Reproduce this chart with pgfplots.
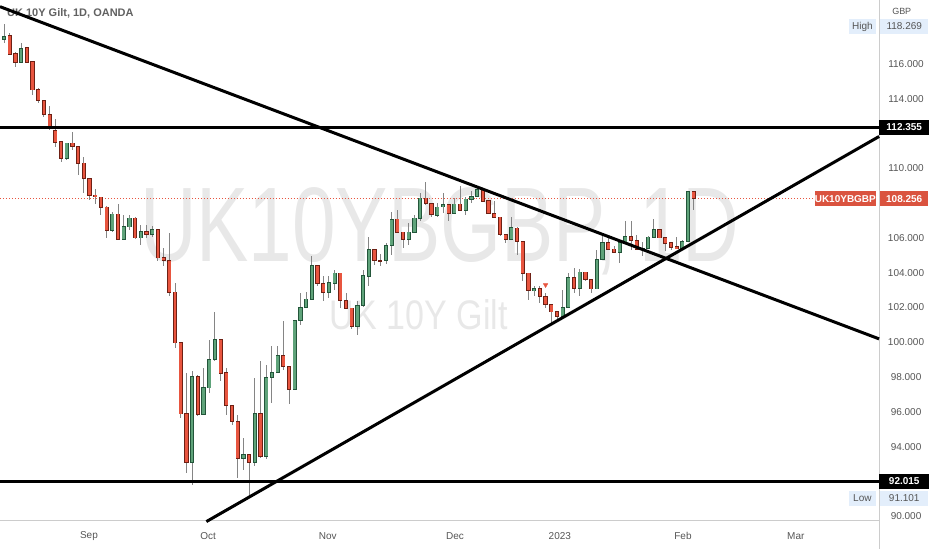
\documentclass[border=0pt]{standalone}
\usepackage{graphicx}
\usepackage{pgfplots}
\pgfplotsset{compat=1.18}
\usepackage{pgfplotstable}
\usepackage{fontspec}
\setmainfont{Liberation Sans}

\definecolor{cred}{HTML}{E8553F}
\definecolor{creddk}{HTML}{6E2014}
\definecolor{cgrn}{HTML}{5FA37A}
\definecolor{cgrndk}{HTML}{23553A}
\definecolor{wick}{HTML}{858585}
\definecolor{axtext}{HTML}{555555}
\definecolor{wmark}{HTML}{E8E8E8}
\definecolor{hibox}{HTML}{E3EEFB}
\definecolor{lblred}{HTML}{DA533F}

% daily bars, k = bar index (k=15 is 1 Sep 2022)
\pgfplotstableread{
k o h l c
1 117.61 117.78 116.52 116.57
2 116.61 116.69 115.85 116.10
4 116.94 116.99 116.04 116.10
5 116.13 116.17 114.22 114.51
6 114.51 114.60 113.74 113.89
7 113.89 113.93 112.97 113.11
8 113.11 113.59 112.21 112.27
9 112.17 112.84 111.25 111.48
10 111.52 111.58 110.39 110.55
12 111.45 112.08 111.06 111.25
13 111.25 111.29 109.63 110.30
14 110.30 110.64 108.58 109.40
15 109.40 109.46 108.19 108.44
16 108.46 108.81 107.96 108.36
17 108.35 108.37 107.33 107.77
18 107.77 107.85 106.00 106.43
20 107.37 107.96 105.90 105.94
23 107.14 107.22 105.95 106.00
25 106.37 106.76 106.01 106.22
27 106.47 106.53 104.65 104.85
28 104.85 105.44 104.36 104.69
29 104.71 106.30 102.64 102.89
30 102.89 103.41 99.68 99.97
31 99.97 99.97 95.66 95.89
32 95.89 98.24 92.50 93.11
34 98.05 98.15 95.75 95.85
38 100.16 100.16 97.76 98.24
39 98.24 98.53 95.85 96.37
40 96.37 96.37 95.28 95.47
41 95.47 95.85 92.22 93.31
43 93.56 93.56 91.10 93.08
45 95.91 98.91 93.36 93.46
49 99.24 101.21 98.43 98.62
50 98.62 98.62 96.48 97.32
55 104.40 104.40 103.22 103.37
56 103.37 103.83 102.36 102.89
59 103.98 103.98 101.97 102.41
60 102.41 102.84 101.93 101.97
61 101.97 101.97 100.79 100.92
65 105.32 105.36 104.42 104.71
66 104.71 105.07 104.40 104.69
69 107.08 107.58 106.30 106.34
70 106.34 106.37 105.42 105.94
74 108.29 109.22 107.90 108.00
75 108.00 108.00 107.23 107.33
78 107.90 107.90 106.99 107.39
80 107.95 109.00 107.55 107.58
84 108.77 108.86 108.04 108.09
85 108.13 108.19 107.35 107.39
86 107.39 108.15 107.15 107.20
87 107.20 107.23 106.13 106.18
88 106.18 106.18 105.72 105.94
90 106.57 106.60 105.04 105.80
91 105.80 105.80 103.54 103.98
92 103.98 103.98 102.45 102.97
94 103.07 103.26 102.26 102.64
95 102.64 102.84 101.97 102.16
96 102.16 102.16 101.12 101.75
97 101.75 101.76 101.19 101.49
100 103.70 104.27 102.84 103.12
102 104.04 104.04 103.55 103.60
103 103.60 103.60 102.84 103.07
106 105.74 106.01 105.33 105.36
107 105.36 105.55 105.12 105.16
110 106.09 106.95 105.32 105.86
111 105.86 106.18 105.28 105.36
115 106.47 106.47 105.97 106.00
116 106.00 106.00 105.23 105.71
117 105.71 105.71 105.32 105.48
118 105.48 106.05 105.40 105.42
121 108.67 108.72 107.62 108.256
}\reddata

\pgfplotstableread{
k o h l c
0 117.42 118.27 117.19 117.57
3 116.10 117.22 116.04 116.90
11 110.55 111.47 110.50 111.45
19 106.43 107.50 106.36 107.37
21 105.94 107.33 105.90 106.63
22 106.63 107.33 106.47 107.14
24 106.00 106.76 105.61 106.37
26 106.22 106.66 106.03 106.47
33 93.11 98.34 91.83 98.05
35 95.85 98.53 95.81 97.38
36 97.38 100.16 97.10 99.01
37 99.01 101.72 98.95 100.16
42 93.31 94.52 92.69 93.56
44 93.08 97.96 92.88 95.91
46 93.46 98.72 93.27 97.99
47 97.99 99.77 96.52 98.28
48 98.28 99.77 98.24 99.24
51 97.32 101.30 97.29 101.25
52 101.25 102.84 101.02 102.02
53 102.02 102.87 101.98 102.49
54 102.49 104.99 102.45 104.40
57 102.89 103.79 102.55 103.41
58 103.41 104.13 103.02 103.98
62 100.92 102.35 100.44 102.10
63 102.10 104.17 102.05 103.83
64 103.79 106.05 103.22 105.32
67 104.69 105.72 104.52 105.55
68 105.55 107.52 105.04 107.08
71 105.94 106.86 105.61 106.34
72 106.34 107.33 106.30 107.14
73 107.14 108.58 106.95 108.29
76 107.30 108.00 107.23 107.77
77 107.79 108.58 107.43 107.90
79 107.39 108.29 107.35 107.95
81 107.58 108.35 107.33 108.23
82 108.23 108.67 108.00 108.38
83 108.38 108.96 108.35 108.77
89 105.94 107.20 105.90 106.57
93 102.97 103.26 102.64 103.07
98 101.49 103.03 101.45 102.01
99 102.01 103.98 101.98 103.70
101 103.12 104.21 102.64 104.04
104 103.07 105.32 103.05 104.75
105 104.75 106.13 104.72 105.74
108 105.16 105.90 104.56 105.74
109 105.74 106.95 105.72 106.09
112 105.36 105.74 104.94 105.42
113 105.42 106.09 105.40 106.05
114 106.05 107.08 106.03 106.47
119 105.42 105.90 105.40 105.80
120 105.80 108.70 105.78 108.67
}\grndata

\pgfplotsset{
  wickstyle/.style={draw=none, mark=none, forget plot,
    error bars/.cd, y dir=both, y explicit, error mark=none,
    error bar style={line width=0.9pt, draw=wick}},
  bodystyle/.style 2 args={draw=none, mark=none, forget plot,
    error bars/.cd, y dir=both, y explicit, error mark=none,
    error bar style={line width=#1, draw=#2}},
}

\begin{document}
\begin{tikzpicture}
\begin{axis}[
  width=880pt, height=521pt, scale only axis,
  xmin=-0.702, xmax=153.5, ymin=89.766, ymax=119.674,
  axis x line*=bottom, axis y line*=right,
  axis line style={draw=black!20, line width=0.8pt},
  tick style={draw=none},
  xtick={14.9,35.8,56.8,79.1,97.5,119.1,138.9},
  xticklabels={Sep,Oct,Nov,Dec,2023,Feb,Mar},
  ytick={90,94,96,98,100,102,104,106,110,114,116},
  yticklabels={90.000,94.000,96.000,98.000,100.000,102.000,104.000,106.000,110.000,114.000,116.000},
  ticklabel style={font=\fontsize{10}{12}\selectfont, text=axtext},
  xticklabel style={anchor=center, yshift=-16pt},
  yticklabel style={anchor=center, xshift=27pt},
  clip=false,
]
% watermark and title
\node[anchor=base west, inner sep=0pt, text=wmark, xshift=140pt, yshift=-262pt]
  at (rel axis cs:0,1) {\resizebox{600pt}{74pt}{UK10YBGBP, 1D}};
\node[anchor=base west, inner sep=0pt, text=wmark, xshift=330pt, yshift=-330pt]
  at (rel axis cs:0,1) {\resizebox{178pt}{30pt}{UK 10Y Gilt}};
\node[anchor=west, inner sep=0pt, xshift=7pt, yshift=-13pt, text=black!62,
  font=\bfseries\fontsize{11}{13}\selectfont] at (rel axis cs:0,1) {UK 10Y Gilt, 1D, OANDA};

% last price line
\addplot[cred, line width=0.8pt, dash pattern=on 1pt off 2pt] coordinates {(-0.702,108.256) (142.3,108.256)};

% wicks
\addplot[wickstyle] table[x=k, y expr={(\thisrow{h}+\thisrow{l})/2}, y error expr={(\thisrow{h}-\thisrow{l})/2}] {\reddata};
\addplot[wickstyle] table[x=k, y expr={(\thisrow{h}+\thisrow{l})/2}, y error expr={(\thisrow{h}-\thisrow{l})/2}] {\grndata};
% bodies: dark outline then fill
\addplot[bodystyle={4.2pt}{creddk}] table[x=k, y expr={(\thisrow{o}+\thisrow{c})/2}, y error expr={abs(\thisrow{o}-\thisrow{c})/2+0.03}] {\reddata};
\addplot[bodystyle={2.6pt}{cred}] table[x=k, y expr={(\thisrow{o}+\thisrow{c})/2}, y error expr={max(abs(\thisrow{o}-\thisrow{c})/2-0.02,0)}] {\reddata};
\addplot[bodystyle={4.2pt}{cgrndk}] table[x=k, y expr={(\thisrow{o}+\thisrow{c})/2}, y error expr={abs(\thisrow{o}-\thisrow{c})/2+0.03}] {\grndata};
\addplot[bodystyle={2.6pt}{cgrn}] table[x=k, y expr={(\thisrow{o}+\thisrow{c})/2}, y error expr={max(abs(\thisrow{o}-\thisrow{c})/2-0.02,0)}] {\grndata};

\addplot[only marks, mark=triangle*, mark size=2.6pt, mark options={rotate=180, fill=cred, draw=cred}] coordinates {(95,103.30)};

% drawn trend lines and levels
\addplot[black, line width=3pt] coordinates {(-0.702,119.29) (153.5,100.2)};
\addplot[black, line width=3pt] coordinates {(35.5,89.70) (153.5,111.83)};
\addplot[black, line width=3pt] coordinates {(-0.702,112.355) (153.5,112.355)};
\addplot[black, line width=3pt] coordinates {(-0.702,92.015) (153.5,92.015)};

% right scale labels
\tikzset{lbl/.style={inner sep=0pt, minimum height=15pt, font=\fontsize{10}{12}\selectfont}}
\node[lbl, anchor=west, minimum width=48pt, fill=hibox, text=axtext, xshift=1pt] at (axis cs:153.5,118.15) {118.269};
\node[lbl, anchor=east, minimum width=27pt, fill=hibox, text=axtext, xshift=-3pt] at (axis cs:153.5,118.15) {High};
\node[lbl, anchor=west, minimum width=48pt, fill=hibox, text=axtext, xshift=1pt] at (axis cs:153.5,91.05) {91.101};
\node[lbl, anchor=east, minimum width=27pt, fill=hibox, text=axtext, xshift=-3pt] at (axis cs:153.5,91.05) {Low};
\node[lbl, anchor=west, minimum width=50pt, fill=black, text=white, font=\bfseries\fontsize{10}{12}\selectfont] at (axis cs:153.5,112.355) {112.355};
\node[lbl, anchor=west, minimum width=50pt, fill=black, text=white, font=\bfseries\fontsize{10}{12}\selectfont] at (axis cs:153.5,92.015) {92.015};
\node[lbl, anchor=west, minimum width=48pt, fill=lblred, text=white, xshift=1pt, font=\bfseries\fontsize{10}{12}\selectfont] at (axis cs:153.5,108.256) {108.256};
\node[lbl, anchor=east, minimum width=60pt, fill=lblred, text=white, xshift=-3pt, font=\bfseries\fontsize{10}{12}\selectfont] at (axis cs:153.5,108.256) {UK10YBGBP};
\node[anchor=west, inner sep=0pt, text=axtext, font=\fontsize{9}{11}\selectfont, xshift=13pt, yshift=-11pt] at (rel axis cs:1,1) {GBP};
\end{axis}
\draw[black!20, line width=0.8pt] (current axis.south east) -- ++(0,-29pt);
\pgfresetboundingbox
\path[use as bounding box] ([yshift=-29pt]current axis.south west) rectangle ([xshift=53pt]current axis.north east);
\end{tikzpicture}
\end{document}
